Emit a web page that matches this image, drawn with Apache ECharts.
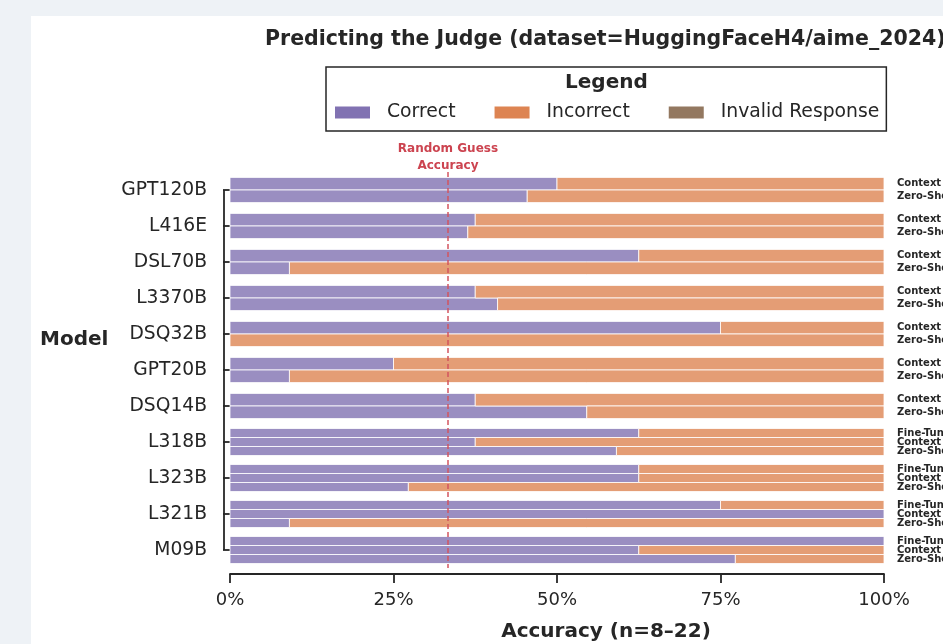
<!DOCTYPE html>
<html>
<head>
<meta charset="utf-8">
<script src="https://cdn.jsdelivr.net/npm/echarts@6/dist/echarts.min.js"></script>
<style>
  html, body { margin: 0; padding: 0; width: 943px; height: 644px; overflow: hidden; background: #eef2f6; }
  #card { position: absolute; left: 31px; top: 16px; right: 0; bottom: 0; background: #ffffff; }
  #chart { position: absolute; left: 0; top: 0; width: 943px; height: 644px; }
</style>
</head>
<body>
<div id="card"></div>
<div id="chart"></div>
<script>
// Models, top to bottom
const models = ['GPT120B', 'L416E', 'DSL70B', 'L3370B', 'DSQ32B', 'GPT20B', 'DSQ14B', 'L318B', 'L323B', 'L321B', 'M09B'];

// Prompting conditions, in row order inside each model group
const conditions = ['Fine-Tuned', 'Context', 'Zero-Shot'];

// Share of responses (%) per condition; null = condition not run for that model
const fineTunedCorrect   = [null, null, null, null, null, null, null, 62.5, 62.5, 75, 100];
const fineTunedIncorrect = [null, null, null, null, null, null, null, 37.5, 37.5, 25, 0];
const fineTunedInvalid   = [null, null, null, null, null, null, null, 0, 0, 0, 0];

const contextCorrect   = [50, 37.5, 62.5, 37.5, 75, 25, 37.5, 37.5, 62.5, 100, 62.5];
const contextIncorrect = [50, 62.5, 37.5, 62.5, 25, 75, 62.5, 62.5, 37.5, 0, 37.5];
const contextInvalid   = [0, 0, 0, 0, 0, 0, 0, 0, 0, 0, 0];

const zeroShotCorrect   = [45.45, 36.36, 9.09, 40.91, 0, 9.09, 54.55, 59.09, 27.27, 9.09, 77.27];
const zeroShotIncorrect = [54.55, 63.64, 90.91, 59.09, 100, 90.91, 45.45, 40.91, 72.73, 90.91, 22.73];
const zeroShotInvalid   = [0, 0, 0, 0, 0, 0, 0, 0, 0, 0, 0];

// Accuracy tick labels
const xTicks = [0, 25, 50, 75, 100];

// Chance level among three outcomes
const randomGuess = 33.33;

const statuses = ['Correct', 'Incorrect', 'Invalid Response'];
const statusColors = ['#8172b2', '#dd8452', '#937860'];

const table = {
  'Fine-Tuned': [fineTunedCorrect, fineTunedIncorrect, fineTunedInvalid],
  'Context':    [contextCorrect, contextIncorrect, contextInvalid],
  'Zero-Shot':  [zeroShotCorrect, zeroShotIncorrect, zeroShotInvalid]
};

// Row thickness (in category-band units) depending on how many rows a model has
const rowThickness = { 1: 0.5, 2: 0.35, 3: 0.25 };

// Build stacked segments: [modelIndex, start, end, rowIndex, rowCount]
const segments = [[], [], []];
const rowLabels = [];
models.forEach((m, i) => {
  const present = conditions.filter(c => table[c][0][i] !== null);
  present.forEach((c, r) => {
    let start = 0;
    table[c].forEach((arr, s) => {
      const v = arr[i];
      segments[s].push([i, start, start + v, r, present.length]);
      start += v;
    });
    rowLabels.push([i, r, present.length, conditions.indexOf(c)]);
  });
});

const FONT = 'DejaVu Sans';
const INK = '#262626';

function rowGeom(api, cat, row, n) {
  const band = api.size([0, 1])[1];
  const h = band * rowThickness[n];
  const center = api.coord([0, cat])[1];
  return { top: center - h * n / 2 + row * h, h: h };
}

function makeSegmentRenderer(color) {
  return function (params, api) {
    const cat = api.value(0), x0 = api.value(1), x1 = api.value(2);
    const row = api.value(3), n = api.value(4);
    const p0 = api.coord([x0, cat])[0];
    const p1 = api.coord([x1, cat])[0];
    if (p1 - p0 <= 0) return null;
    const g = rowGeom(api, cat, row, n);
    return {
      type: 'rect',
      shape: { x: p0, y: g.top, width: p1 - p0, height: g.h },
      style: { fill: color, opacity: 0.8, stroke: '#ffffff', lineWidth: 1 }
    };
  };
}

function renderRowLabel(params, api) {
  const cat = api.value(0), row = api.value(1), n = api.value(2), ci = api.value(3);
  const g = rowGeom(api, cat, row, n);
  const xEnd = api.coord([100, cat])[0];
  return {
    type: 'text',
    x: xEnd + 13,
    y: g.top + g.h / 2,
    style: {
      text: conditions[ci],
      fill: INK,
      font: 'bold 10px "' + FONT + '"',
      verticalAlign: 'middle',
      align: 'left'
    }
  };
}

const chart = echarts.init(document.getElementById('chart'), null, { renderer: 'canvas' });

const series = statuses.map((name, s) => ({
  name: name,
  type: 'custom',
  coordinateSystem: 'cartesian2d',
  itemStyle: { color: statusColors[s] },
  encode: { x: [1, 2], y: 0 },
  renderItem: makeSegmentRenderer(statusColors[s]),
  data: segments[s],
  clip: false
}));

series.push({
  name: 'rowLabels',
  type: 'custom',
  coordinateSystem: 'cartesian2d',
  encode: { x: 1, y: 0 },
  renderItem: renderRowLabel,
  data: rowLabels,
  clip: false,
  silent: true,
  markLine: {
    silent: true,
    symbol: 'none',
    lineStyle: { color: '#d45560', type: [5, 3], width: 1.5 },
    label: {
      show: true,
      position: 'start',
      formatter: 'Random Guess\nAccuracy',
      color: '#cc4450',
      fontFamily: FONT,
      fontWeight: 'bold',
      fontSize: 12,
      lineHeight: 17,
      distance: -2
    },
    data: [{ xAxis: randomGuess }]
  }
});

chart.setOption({
  animation: false,
  textStyle: { fontFamily: FONT },
  title: [
    {
      text: 'Predicting the Judge (dataset=HuggingFaceH4/aime_2024)',
      left: 265, top: 29, padding: 0,
      textStyle: { fontSize: 20.5, fontWeight: 'bold', color: INK, fontFamily: FONT }
    },
    {
      text: 'Legend',
      left: 565, top: 73, padding: 0,
      textStyle: { fontSize: 20, fontWeight: 'bold', color: INK, fontFamily: FONT }
    },
    {
      text: 'Model',
      left: 40, top: 330, padding: 0,
      textStyle: { fontSize: 20, fontWeight: 'bold', color: INK, fontFamily: FONT }
    }
  ],
  legend: {
    left: 326, top: 67,
    orient: 'horizontal',
    padding: [36, 7, 9, 9],
    itemWidth: 35, itemHeight: 12, itemGap: 39,
    borderColor: INK, borderWidth: 1.5,
    backgroundColor: '#ffffff',
    selectedMode: false,
    textStyle: { fontSize: 18.8, color: INK, fontFamily: FONT, padding: [0, 0, 0, 12] },
    data: statuses.map((name, s) => ({ name: name, icon: 'rect', itemStyle: { color: statusColors[s] } }))
  },
  grid: { left: 230, right: 59, top: 172, bottom: 76, containLabel: false, outerBoundsMode: 'none' },
  xAxis: {
    type: 'value',
    min: xTicks[0], max: xTicks[xTicks.length - 1], interval: xTicks[1] - xTicks[0],
    offset: 6,
    axisLine: { show: true, lineStyle: { color: INK, width: 1.8 } },
    axisTick: { show: true, length: 9, lineStyle: { color: INK, width: 1.8 } },
    axisLabel: { formatter: '{value}%', fontSize: 18, color: INK, margin: 17, fontFamily: FONT },
    splitLine: { show: false },
    name: 'Accuracy (n=8\u201322)',
    nameLocation: 'middle',
    nameGap: 48,
    nameTextStyle: { fontSize: 20, fontWeight: 'bold', color: INK, fontFamily: FONT, padding: [0, 0, 0, 98] }
  },
  yAxis: {
    type: 'category',
    data: models,
    inverse: true,
    offset: 6,
    axisLine: { show: false },
    axisTick: { show: true, alignWithLabel: true, length: 7, lineStyle: { color: INK, width: 1.8 } },
    axisLabel: { fontSize: 18.7, color: INK, margin: 17, fontFamily: FONT },
    splitLine: { show: false }
  },
  series: series
});

// Trimmed y-axis spine running from the first to the last model tick
const spineX = chart.convertToPixel({ xAxisIndex: 0 }, 0) - 6;
const yFirst = chart.convertToPixel({ yAxisIndex: 0 }, 0);
const yLast = chart.convertToPixel({ yAxisIndex: 0 }, models.length - 1);
chart.setOption({
  graphic: [{
    type: 'line',
    shape: { x1: spineX, y1: yFirst, x2: spineX, y2: yLast },
    style: { stroke: INK, lineWidth: 1.8 },
    silent: true
  }]
});
</script>
</body>
</html>
